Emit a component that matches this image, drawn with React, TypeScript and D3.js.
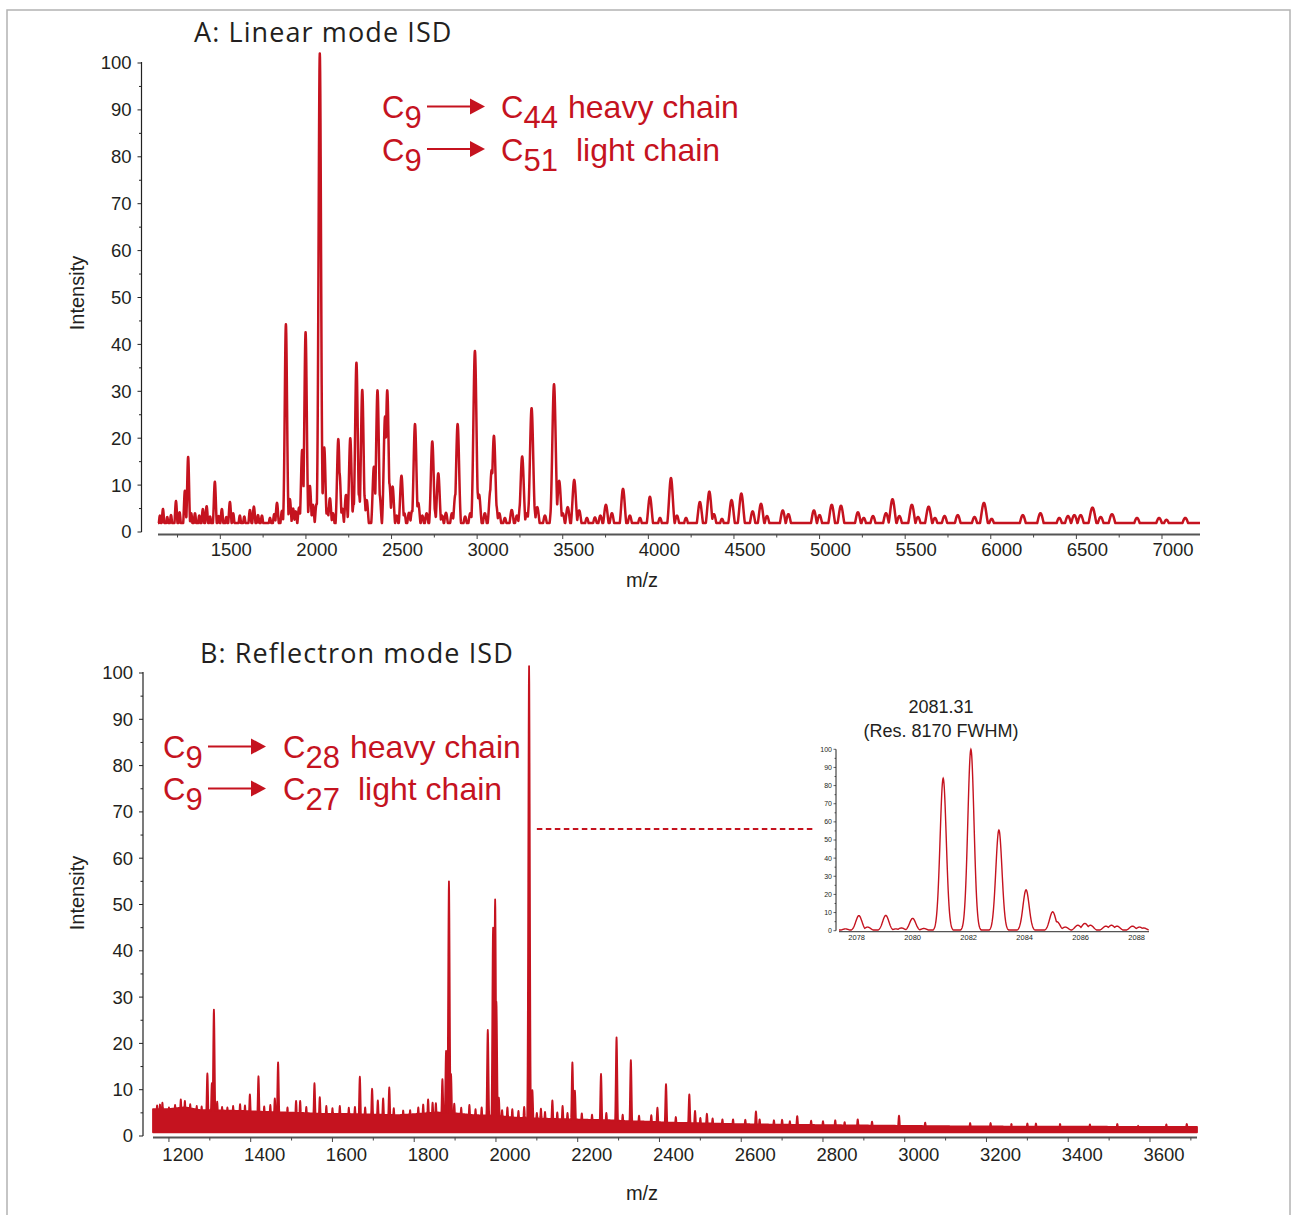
import React, { useEffect, useRef } from 'react';
import * as d3 from 'd3';

type Pair = [number, number];

// axis ticks
const intensityTicks = [0, 10, 20, 30, 40, 50, 60, 70, 80, 90, 100];
const linearTicks = [1500, 2000, 2500, 3000, 3500, 4000, 4500, 5000, 5500, 6000, 6500, 7000];
const reflectronTicks = [1200, 1400, 1600, 1800, 2000, 2200, 2400, 2600, 2800, 3000, 3200, 3400, 3600];
const insetTicksX = [2078, 2080, 2082, 2084, 2086, 2088];

// Panel A: linear mode peaks [m/z, relative intensity]
const linearBaseline = 1.9;
const linearPeaks: Pair[] = [
  [1147, 3.5], [1165, 4.9], [1190, 3.2], [1212, 3.6], [1241, 6.6], [1262, 4.2], [1293, 8.8], [1312, 16],
  [1330, 4], [1352, 4], [1377, 3.5], [1398, 4.9], [1420, 5.5], [1440, 3.3], [1468, 10.7], [1490, 3.4],
  [1509, 4.9], [1535, 3.2], [1556, 6.4], [1575, 4], [1614, 3.5], [1640, 3.3], [1673, 4.7], [1696, 5.4],
  [1720, 3.6], [1743, 3.5], [1790, 3], [1815, 3.8], [1831, 6.2], [1860, 4.5], [1883, 44.3], [1906, 7],
  [1925, 5], [1940, 4.4], [1960, 5.2], [1978, 17.5], [1998, 42.6], [2023, 9.8], [2041, 5.8], [2062, 6],
  [2076, 21.7], [2081, 102], [2107, 18], [2125, 5], [2140, 7.2], [2158, 4], [2189, 19.8], [2196, 12.6],
  [2212, 5], [2234, 7.9], [2259, 20], [2279, 6], [2295, 36.1], [2310, 8], [2329, 30.3], [2340, 8],
  [2355, 6.8], [2397, 13.9], [2418, 30.2], [2430, 8], [2462, 24.6], [2475, 30.2], [2487, 10.4],
  [2506, 9.7], [2530, 3.5], [2558, 12], [2575, 4], [2602, 4.1], [2620, 4.5], [2637, 23], [2656, 6.2],
  [2680, 3.5], [2705, 4], [2738, 19.3], [2750, 5], [2773, 12.5], [2795, 3.5], [2818, 4.1], [2853, 4],
  [2873, 8], [2886, 23], [2930, 3.3], [2960, 4], [2987, 38.6], [3000, 9], [3011, 8], [3045, 4],
  [3078, 9], [3085, 13.2], [3098, 20.5], [3110, 6], [3129, 4], [3162, 3], [3202, 4.7], [3232, 3.5],
  [3255, 7], [3263, 16.1], [3290, 4], [3310, 9], [3318, 26.4], [3330, 6], [3351, 5.3], [3396, 3.5],
  [3440, 8], [3449, 31.5], [3479, 10.9], [3500, 4], [3529, 5.3], [3567, 11.1], [3596, 4.6], [3641, 3],
  [3688, 3.1], [3720, 3.5], [3752, 5.8], [3787, 4], [3852, 9.2], [3892, 3.5], [3951, 3], [4009, 7.5],
  [4068, 3], [4132, 11.5], [4167, 3.5], [4220, 3], [4301, 6.4], [4356, 8.6], [4383, 3.8], [4430, 2.8],
  [4486, 6.8], [4543, 8.2], [4609, 4.4], [4658, 6], [4693, 3.4], [4785, 4.6], [4818, 3.8], [4967, 4.6],
  [5000, 3.6], [5071, 5.8], [5125, 5.6], [5224, 4.2], [5258, 3], [5312, 3.4], [5388, 4], [5426, 7],
  [5466, 3.4], [5539, 5.8], [5575, 3.2], [5637, 5.4], [5674, 3], [5730, 3.4], [5807, 3.6], [5905, 3.2],
  [5960, 6.2], [6005, 2.8], [6187, 3.6], [6290, 4], [6400, 3], [6451, 3.4], [6488, 3.6], [6525, 3.6],
  [6594, 5.2], [6642, 3.2], [6708, 3.8], [6854, 3], [6983, 3], [7026, 2.6], [7136, 3],
];

// Panel B: reflectron mode peaks [m/z, relative intensity]
const reflectronPeaks: Pair[] = [
  [1171, 6.6], [1184, 7.2], [1215, 6.7], [1229, 7.9], [1239, 7.6], [1268, 6.5], [1294, 13.5], [1305, 11.4],
  [1310, 27.3], [1318, 7.4], [1343, 6.2], [1374, 6.9], [1398, 9], [1419, 12.9], [1459, 8.1], [1467, 15.9],
  [1511, 7.6], [1521, 7.6], [1556, 11.4], [1569, 8.4], [1618, 6.5], [1667, 12.8], [1697, 10.2], [1711, 7.7],
  [1724, 8.1], [1739, 10.5], [1773, 5.5], [1834, 7.9], [1853, 7.1], [1869, 12.3], [1878, 18.4], [1885, 55],
  [1890, 13.4], [1898, 7], [1935, 6.7], [1980, 22.9], [1993, 45], [1998, 51.1], [2001, 29], [2007, 8.3],
  [2028, 6.2], [2069, 6.3], [2081, 101.5], [2089, 9.9], [2110, 5.9], [2138, 7.7], [2163, 6.5], [2187, 15.9],
  [2193, 9.8], [2257, 13.4], [2295, 21.3], [2330, 16.4], [2395, 6.1], [2416, 11.2], [2473, 9], [2487, 5.4],
  [2516, 4.8], [2554, 3.6], [2636, 5.3], [2645, 3.6], [2719, 3.2], [2737, 4.3], [2771, 3.3], [2853, 3],
  [2885, 3.6], [2986, 4.4], [3261, 2.6], [3321, 2.7], [3453, 2.5], [3571, 2.2],
  // small hairs on top of the noise band
  [1178, 6.8], [1200, 6.2], [1252, 6.9], [1280, 6.4], [1330, 6.3], [1357, 6.5], [1386, 6.6], [1433, 6.4],
  [1448, 6.7], [1490, 6.2], [1536, 6.3], [1585, 6.5], [1600, 6], [1640, 6.1], [1655, 6.3], [1680, 6.2],
  [1750, 6], [1790, 5.6], [1810, 6.2], [1822, 6.8], [1845, 7.2], [1915, 6.1], [1950, 5.8], [1965, 6.2],
  [2015, 5.6], [2040, 5.8], [2055, 5.4], [2100, 5], [2120, 5.2], [2150, 5.1], [2175, 5], [2210, 4.9],
  [2235, 4.6], [2270, 5], [2310, 4.6], [2350, 4.4], [2380, 4.5], [2440, 4.1], [2500, 3.9], [2530, 3.8],
  [2580, 3.6], [2610, 3.5], [2680, 3.4], [2700, 3.5], [2800, 3.2], [2830, 3.4], [2920, 3.1], [3050, 2.9],
  [3160, 2.8], [3210, 2.8], [3300, 2.7], [3380, 2.6], [3520, 2.6], [3640, 2.5], [3690, 2.6],
];

// upper edge of the dense noise band in panel B [m/z, intensity]
const reflectronNoiseTop: Pair[] = [
  [1161, 5.8], [1198, 5.8], [1239, 6.2], [1276, 5.6], [1337, 5.5], [1386, 5.4], [1435, 5.2], [1479, 5.1],
  [1520, 5], [1572, 4.8], [1618, 4.8], [1667, 4.7], [1716, 4.6], [1760, 4.5], [1814, 4.8], [1853, 5.1],
  [1900, 4.9], [1946, 4.5], [1998, 4.4], [2042, 4], [2095, 3.8], [2135, 3.7], [2181, 3.6], [2228, 3.5],
  [2279, 3.4], [2323, 3.2], [2377, 3.1], [2416, 2.9], [2475, 2.8], [2524, 2.7], [2572, 2.6], [2646, 2.5],
  [2744, 2.4], [2866, 2.3], [2988, 2.2], [3111, 2.1], [3233, 2.05], [3355, 2], [3478, 2], [3600, 1.95],
  [3715, 1.95],
];
const reflectronNoiseFloor = 0.8;

// inset: isotope cluster around 2081.31
const insetPeaks: Pair[] = [
  [2077.6, 1], [2078.08, 8.3], [2078.39, 2], [2079.04, 8.4], [2079.4, 1], [2079.6, 1.5], [2080.0, 6.8],
  [2080.4, 1.2], [2081.09, 84], [2082.08, 100], [2083.08, 55.5], [2084.05, 22.5], [2085.0, 10.4],
  [2085.15, 5], [2085.45, 2], [2085.9, 3], [2086.15, 4], [2086.35, 3], [2086.9, 2.5], [2087.1, 3],
  [2087.3, 2.5], [2087.85, 2.5], [2088.1, 2], [2088.25, 1.5],
];
const insetFloor = 0.4;

const RED = '#c5131f';
const INK = '#231f20';
const SANS = '"Liberation Sans", Arial, sans-serif';
const TITLE = '"Open Sans", "Noto Sans", sans-serif';

// profile of listed peaks sampled over the axis domain (max of gaussians over a floor)
function spectrum(peaks: Pair[], dom: number[], step: number, sigma: (m: number) => number, floor: (m: number) => number): Pair[] {
  const out: Pair[] = [];
  for (let m = dom[0]; m <= dom[1]; m += step) {
    let v = floor(m);
    for (const [c, h] of peaks) {
      const d = (m - c) / sigma(c);
      if (d > -5 && d < 5) v = Math.max(v, h * Math.exp(-0.5 * d * d));
    }
    out.push([m, v]);
  }
  return out;
}

function drawAxes(g: any, x: any, y: any, o: any) {
  // y axis
  g.append('line').attr('x1', o.yAxisX).attr('x2', o.yAxisX)
    .attr('y1', y(0)).attr('y2', y(100) - 1).attr('stroke', '#222').attr('stroke-width', 1.2);
  d3.range(0, 101, 5).forEach(v => {
    const major = v % 10 === 0;
    g.append('line').attr('x1', o.yAxisX - (major ? 4 : 2.5)).attr('x2', o.yAxisX)
      .attr('y1', y(v)).attr('y2', y(v)).attr('stroke', '#222').attr('stroke-width', 1);
  });
  g.selectAll('.ylab').data(intensityTicks).join('text')
    .attr('x', o.yAxisX - 10).attr('y', (d: number) => y(d)).attr('dy', '0.35em')
    .attr('text-anchor', 'end').attr('fill', INK)
    .style('font', `18.5px ${SANS}`).text((d: number) => d);

  // x axis
  const [r0, r1] = x.range();
  g.append('line').attr('x1', r0).attr('x2', r1).attr('y1', o.xAxisY).attr('y2', o.xAxisY)
    .attr('stroke', '#555').attr('stroke-width', 1.8);
  const [d0, d1] = x.domain();
  for (let t = Math.ceil(d0 / o.minor) * o.minor; t <= d1; t += o.minor) {
    const major = o.ticks.includes(t);
    g.append('line').attr('x1', x(t)).attr('x2', x(t))
      .attr('y1', o.xAxisY).attr('y2', o.xAxisY + (major ? 4.5 : 3))
      .attr('stroke', '#444').attr('stroke-width', 1);
  }
  g.selectAll('.xlab').data(o.ticks).join('text')
    .attr('x', (d: number) => x(d) + o.labelShift).attr('y', o.xAxisY + o.labelDy)
    .attr('text-anchor', 'middle').attr('fill', INK)
    .style('font', `18.5px ${SANS}`).text((d: number) => d);

  // titles
  g.append('text').attr('x', o.titleX).attr('y', o.titleY).attr('fill', INK)
    .style('font', `27px ${TITLE}`).style('letter-spacing', '1.1px').text(o.title);
  g.append('text').attr('transform', `translate(${o.yLabelX},${o.yLabelY}) rotate(-90)`)
    .attr('text-anchor', 'middle').attr('fill', INK).style('font', `20px ${SANS}`).text('Intensity');
  g.append('text').attr('x', 642).attr('y', o.mzY).attr('text-anchor', 'middle')
    .attr('fill', INK).style('font', `20px ${SANS}`).text('m/z');
}

function chem(g: any, x: number, y: number, sub: string) {
  const t = g.append('text').attr('x', x).attr('y', y).attr('fill', RED).style('font', `31px ${SANS}`);
  t.append('tspan').text('C');
  t.append('tspan').attr('dy', 10).text(sub);
}

function arrow(g: any, x1: number, x2: number, y: number) {
  g.append('line').attr('x1', x1).attr('x2', x2 - 14).attr('y1', y).attr('y2', y)
    .attr('stroke', RED).attr('stroke-width', 2);
  g.append('path').attr('d', `M${x2 - 15},${y - 8}L${x2},${y}L${x2 - 15},${y + 8}Z`).attr('fill', RED);
}

function annotate(g: any, o: any) {
  const [l1, l2] = o.lines;
  chem(g, o.x0, o.y1, '9');
  arrow(g, o.x0 + 45, o.x0 + 103, o.y1 - 11.5);
  chem(g, o.x1, o.y1, l1.sub);
  g.append('text').attr('x', l1.x).attr('y', o.y1).attr('fill', RED).style('font', `32px ${SANS}`).text('heavy chain');
  chem(g, o.x0, o.y2, '9');
  arrow(g, o.x0 + 45, o.x0 + 103, o.y2 - 11.5);
  chem(g, o.x1, o.y2, l2.sub);
  g.append('text').attr('x', l2.x).attr('y', o.y2).attr('fill', RED).style('font', `32px ${SANS}`).text('light chain');
}

export default function App() {
  const ref = useRef<SVGSVGElement>(null);

  useEffect(() => {
    const svg = d3.select(ref.current);
    svg.selectAll('*').remove();

    // frame
    svg.append('rect').attr('x', 7).attr('y', 10).attr('width', 1283).attr('height', 1240)
      .attr('fill', 'none').attr('stroke', '#b3b3b3').attr('stroke-width', 1.5);

    // ---------- Panel A ----------
    const gA = svg.append('g');
    const xA = d3.scaleLinear().domain([1136, 7222]).range([158, 1200]);
    const yA = d3.scaleLinear().domain([0, 100]).range([532, 63]);
    drawAxes(gA, xA, yA, {
      yAxisX: 141.5, xAxisY: 534.5, ticks: linearTicks, minor: 250, labelShift: 11, labelDy: 21,
      title: 'A: Linear mode ISD', titleX: 194, titleY: 42, yLabelX: 84, yLabelY: 293, mzY: 587,
    });
    const traceA = spectrum(linearPeaks, xA.domain(), 1, m => 3 + m * 0.002, () => linearBaseline);
    gA.append('path').datum(traceA)
      .attr('d', d3.line<Pair>().x(d => xA(d[0])).y(d => yA(d[1])))
      .attr('fill', 'none').attr('stroke', RED).attr('stroke-width', 2.5).attr('stroke-linejoin', 'round');
    annotate(gA, { x0: 382, x1: 501, y1: 118, y2: 160.5, lines: [{ sub: '44', x: 568 }, { sub: '51', x: 576 }] });

    // ---------- Panel B ----------
    const gB = svg.append('g');
    const xB = d3.scaleLinear().domain([1161, 3715]).range([153, 1197]);
    const yB = d3.scaleLinear().domain([0, 100]).range([1136, 673]);
    drawAxes(gB, xB, yB, {
      yAxisX: 143, xAxisY: 1137.5, ticks: reflectronTicks, minor: 100, labelShift: 14, labelDy: 23,
      title: 'B: Reflectron mode ISD', titleX: 200, titleY: 663, yLabelX: 84, yLabelY: 893, mzY: 1200,
    });
    const noise = d3.scaleLinear().domain(reflectronNoiseTop.map(d => d[0])).range(reflectronNoiseTop.map(d => d[1]));
    const traceB = spectrum(reflectronPeaks, xB.domain(), 0.5, () => 1.8, m => noise(m));
    gB.append('path').datum(traceB)
      .attr('d', d3.area<Pair>().x(d => xB(d[0])).y0(yB(reflectronNoiseFloor)).y1(d => yB(d[1])))
      .attr('fill', RED).attr('stroke', RED).attr('stroke-width', 1.8).attr('stroke-linejoin', 'round');
    annotate(gB, { x0: 163, x1: 283, y1: 758, y2: 800, lines: [{ sub: '28', x: 350 }, { sub: '27', x: 358 }] });

    // dashed link from the 2081 peak to the inset
    gB.append('line').attr('x1', xB(2100)).attr('x2', xB(2780)).attr('y1', yB(66.3)).attr('y2', yB(66.3))
      .attr('stroke', RED).attr('stroke-width', 2).attr('stroke-dasharray', '5.5,3.5');

    // ---------- Inset ----------
    const gI = svg.append('g');
    const xI = d3.scaleLinear().domain([2077.37, 2088.44]).range([839, 1149]);
    const yI = d3.scaleLinear().domain([0, 100]).range([930.7, 749.3]);
    gI.append('line').attr('x1', 836).attr('x2', 836).attr('y1', yI(0)).attr('y2', yI(100))
      .attr('stroke', '#222').attr('stroke-width', 1);
    d3.range(0, 101, 5).forEach(v => {
      gI.append('line').attr('x1', v % 10 === 0 ? 833.5 : 834.5).attr('x2', 836)
        .attr('y1', yI(v)).attr('y2', yI(v)).attr('stroke', '#222').attr('stroke-width', 0.7);
    });
    gI.selectAll('.iy').data(intensityTicks).join('text')
      .attr('x', 832).attr('y', (d: number) => yI(d)).attr('dy', '0.35em').attr('text-anchor', 'end')
      .attr('fill', INK).style('font', `7px ${SANS}`).text((d: number) => d);
    gI.append('line').attr('x1', 839).attr('x2', 1149).attr('y1', 931.7).attr('y2', 931.7)
      .attr('stroke', '#555').attr('stroke-width', 1.2);
    gI.selectAll('.ix').data(insetTicksX).join('text')
      .attr('x', (d: number) => xI(d)).attr('y', 940).attr('text-anchor', 'middle')
      .attr('fill', INK).style('font', `7.5px ${SANS}`).text((d: number) => d);
    const traceI = spectrum(insetPeaks, xI.domain(), 0.01, () => 0.11, () => insetFloor);
    gI.append('path').datum(traceI)
      .attr('d', d3.line<Pair>().x(d => xI(d[0])).y(d => yI(d[1])))
      .attr('fill', 'none').attr('stroke', RED).attr('stroke-width', 1.4);
    gI.append('text').attr('x', 941).attr('y', 713).attr('text-anchor', 'middle').attr('fill', INK)
      .style('font', `18px ${SANS}`).text('2081.31');
    gI.append('text').attr('x', 941).attr('y', 736.5).attr('text-anchor', 'middle').attr('fill', INK)
      .style('font', `18px ${SANS}`).text('(Res. 8170 FWHM)');
  }, []);

  return (
    <svg ref={ref} width={1292} height={1215}
      style={{ position: 'absolute', left: 0, top: 0, background: '#fff' }} />
  );
}
